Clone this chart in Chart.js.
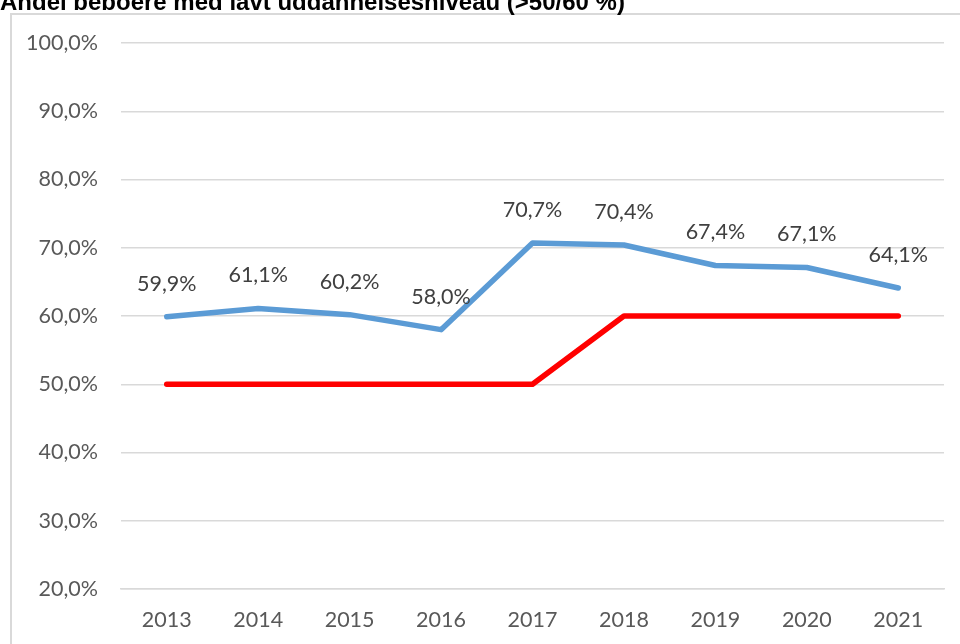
<!DOCTYPE html>
<html>
<head>
<meta charset="utf-8">
<script src="https://cdn.jsdelivr.net/npm/chart.js@4.4.0/dist/chart.umd.js"></script>
<style>
html,body{margin:0;padding:0;background:#fff;overflow:hidden;}
#wrap{position:relative;width:960px;height:644px;}
</style>
</head>
<body>
<div id="wrap"><canvas id="c" width="960" height="644"></canvas></div>
<script>
const chartTitle = "Andel beboere med lavt uddannelsesniveau (>50/60 %)";
const years = ["2013","2014","2015","2016","2017","2018","2019","2020","2021"];
const shareLow = [59.9, 61.1, 60.2, 58.0, 70.7, 70.4, 67.4, 67.1, 64.1];
const threshold = [50, 50, 50, 50, 50, 60, 60, 60, 60];
const yTicks = [20, 30, 40, 50, 60, 70, 80, 90, 100];

const LABEL_FONT = '"Lato", "Open Sans", sans-serif';
const fmt = v => v.toFixed(1).replace('.', ',') + '%';

const framePlugin = {
  id: 'frame',
  beforeDraw(chart) {
    const ctx = chart.ctx;
    ctx.save();
    ctx.fillStyle = '#fff';
    ctx.fillRect(0, 0, chart.width, chart.height);
    ctx.strokeStyle = '#d9d9d9';
    ctx.lineWidth = 2;
    ctx.strokeRect(11, 14, chart.width + 20, chart.height + 20);
    ctx.restore();
  },
  afterDraw(chart) {
    const ctx = chart.ctx;
    ctx.save();
    ctx.fillStyle = '#000';
    ctx.font = 'bold 24px "Liberation Sans", Arial, sans-serif';
    ctx.textAlign = 'left';
    ctx.textBaseline = 'alphabetic';
    ctx.fillText(chartTitle, 0, 10);
    ctx.restore();
  }
};

const labelPlugin = {
  id: 'valueLabels',
  afterDatasetsDraw(chart) {
    const ctx = chart.ctx;
    const meta = chart.getDatasetMeta(0);
    ctx.save();
    ctx.fillStyle = '#404040';
    ctx.font = '21.5px ' + LABEL_FONT;
    ctx.textAlign = 'center';
    ctx.textBaseline = 'middle';
    meta.data.forEach((pt, i) => {
      ctx.fillText(fmt(shareLow[i]), pt.x, pt.y - 33);
    });
    ctx.restore();
  }
};

new Chart(document.getElementById('c'), {
  type: 'line',
  data: {
    labels: years,
    datasets: [
      { label: 'Andel', data: shareLow, borderColor: '#5b9bd5', borderWidth: 5.5,
        pointRadius: 0, tension: 0, borderCapStyle: 'round', borderJoinStyle: 'round', fill: false },
      { label: 'Grænse', data: threshold, borderColor: '#ff0000', borderWidth: 5.5,
        pointRadius: 0, tension: 0, borderCapStyle: 'round', borderJoinStyle: 'round', fill: false }
    ]
  },
  options: {
    responsive: false,
    animation: false,
    devicePixelRatio: 1,
    layout: { padding: { left: 0, top: 43, right: 16, bottom: 0 } },
    plugins: { legend: { display: false }, tooltip: { enabled: false }, title: { display: false } },
    scales: {
      x: {
        offset: true,
        grid: { display: false, drawTicks: false },
        border: { display: true, color: '#d9d9d9', width: 1.5 },
        ticks: { color: '#595959', font: { family: LABEL_FONT, size: 21.5 }, padding: 18, maxRotation: 0 },
        afterFit(scale) { scale.height = 55; }
      },
      y: {
        min: 20, max: 100,
        afterBuildTicks(scale) { scale.ticks = yTicks.map(v => ({ value: v })); },
        grid: { color: '#d9d9d9', lineWidth: 1.5, drawTicks: false },
        border: { display: false },
        ticks: { color: '#595959', font: { family: LABEL_FONT, size: 21.5 }, padding: 23, callback: v => fmt(v) },
        afterFit(scale) { scale.width = 121; }
      }
    }
  },
  plugins: [framePlugin, labelPlugin]
});
</script>
</body>
</html>
